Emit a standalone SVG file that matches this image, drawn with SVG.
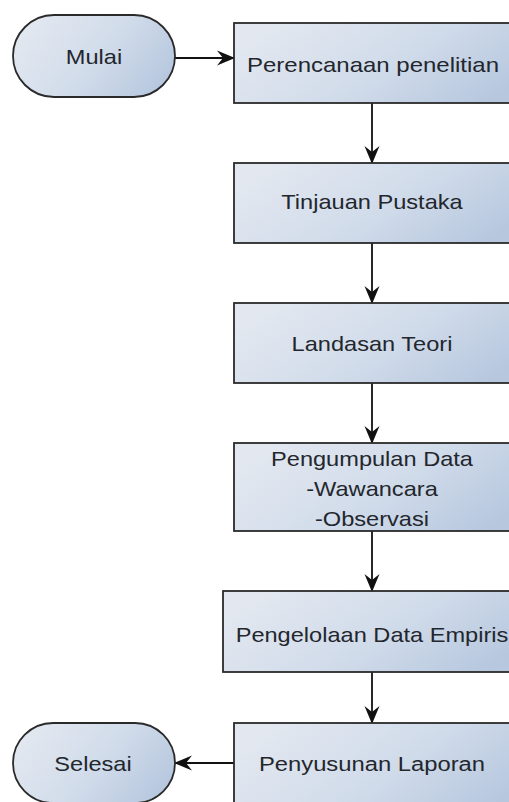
<svg xmlns="http://www.w3.org/2000/svg" width="509" height="802" viewBox="0 0 509 802">
  <defs>
    <linearGradient id="fillBlue" x1="0" y1="0.3" x2="1" y2="0.7">
      <stop offset="0" stop-color="#e3e8f0"/>
      <stop offset="0.55" stop-color="#d0dbea"/>
      <stop offset="1" stop-color="#b6c7de"/>
    </linearGradient>
    <marker id="arrow" viewBox="0 0 18 18" refX="17" refY="9" markerWidth="18" markerHeight="18" markerUnits="userSpaceOnUse" orient="auto">
      <path d="M0,1.5 L18,9 L0,16.5 L6,9 Z" fill="#111"/>
    </marker>
    <style>
      .shape { fill: url(#fillBlue); stroke: #2a2a2a; stroke-width: 1.8; }
      .label { font-family: "Liberation Sans", Arial, sans-serif; font-size: 20px; fill: #23272d; text-anchor: middle; }
      .edge { stroke: #111; stroke-width: 1.8; fill: none; marker-end: url(#arrow); }
    </style>
  </defs>

  <rect width="509" height="802" fill="#ffffff"/>

  <!-- connectors -->
  <g id="connectors">
    <line class="edge" x1="175" y1="58" x2="234" y2="58"/>
    <line class="edge" x1="372" y1="103" x2="372" y2="163"/>
    <line class="edge" x1="372" y1="243" x2="372" y2="303"/>
    <line class="edge" x1="372" y1="383" x2="372" y2="443"/>
    <line class="edge" x1="372" y1="531" x2="372" y2="591"/>
    <line class="edge" x1="372" y1="672" x2="372" y2="723"/>
    <line class="edge" x1="234" y1="763" x2="175" y2="763"/>
  </g>

  <!-- start terminator -->
  <g id="mulai">
    <rect class="shape" x="13" y="15" width="162" height="82" rx="41" ry="41"/>
    <text class="label" transform="translate(94,64) scale(1.18,1)">Mulai</text>
  </g>

  <g id="perencanaan">
    <rect class="shape" x="234" y="23" width="290" height="80"/>
    <text class="label" transform="translate(373,72) scale(1.2,1)">Perencanaan penelitian</text>
  </g>

  <g id="tinjauan">
    <rect class="shape" x="234" y="163" width="290" height="80"/>
    <text class="label" transform="translate(372,209) scale(1.18,1)">Tinjauan Pustaka</text>
  </g>

  <g id="landasan">
    <rect class="shape" x="234" y="303" width="290" height="80"/>
    <text class="label" transform="translate(372,351) scale(1.18,1)">Landasan Teori</text>
  </g>

  <g id="pengumpulan">
    <rect class="shape" x="234" y="443" width="290" height="88"/>
    <text class="label" transform="translate(372,466) scale(1.18,1)">Pengumpulan Data</text>
    <text class="label" transform="translate(372,496) scale(1.18,1)">-Wawancara</text>
    <text class="label" transform="translate(372,526) scale(1.18,1)">-Observasi</text>
  </g>

  <g id="pengelolaan">
    <rect class="shape" x="223" y="591" width="300" height="81"/>
    <text class="label" transform="translate(372,642) scale(1.18,1)">Pengelolaan Data Empiris</text>
  </g>

  <g id="penyusunan">
    <rect class="shape" x="234" y="723" width="290" height="90"/>
    <text class="label" transform="translate(372,771) scale(1.19,1)">Penyusunan Laporan</text>
  </g>

  <!-- end terminator -->
  <g id="selesai">
    <rect class="shape" x="13" y="723" width="162" height="80" rx="40" ry="40"/>
    <text class="label" transform="translate(93,771) scale(1.18,1)">Selesai</text>
  </g>
</svg>
